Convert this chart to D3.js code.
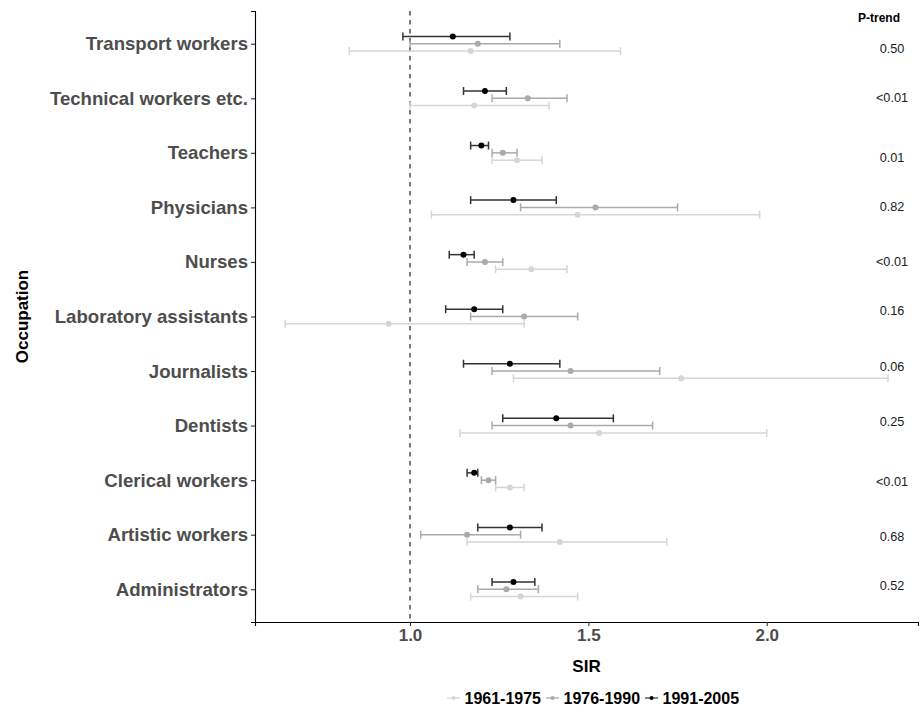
<!DOCTYPE html>
<html><head><meta charset="utf-8">
<script src="https://cdn.jsdelivr.net/npm/d3@7"></script>
<style>body{margin:0;background:#fff}svg{display:block}text{font-family:"Liberation Sans",Arial,sans-serif}</style>
</head><body>
<script>
const occupations = ["Transport workers","Technical workers etc.","Teachers","Physicians","Nurses","Laboratory assistants","Journalists","Dentists","Clerical workers","Artistic workers","Administrators"];
const periods = ["1991-2005","1976-1990","1961-1975"];
const legendOrder = ["1961-1975","1976-1990","1991-2005"];
// SIR point, lower, upper per period (order matches occupations)
const sir1991 = [1.12,1.21,1.20,1.29,1.15,1.18,1.28,1.41,1.18,1.28,1.29];
const lo1991  = [0.98,1.15,1.17,1.17,1.11,1.10,1.15,1.26,1.16,1.19,1.23];
const hi1991  = [1.28,1.27,1.22,1.41,1.18,1.26,1.42,1.57,1.19,1.37,1.35];
const sir1976 = [1.19,1.33,1.26,1.52,1.21,1.32,1.45,1.45,1.22,1.16,1.27];
const lo1976  = [1.00,1.23,1.23,1.31,1.16,1.17,1.23,1.23,1.20,1.03,1.19];
const hi1976  = [1.42,1.44,1.30,1.75,1.26,1.47,1.70,1.68,1.24,1.31,1.36];
const sir1961 = [1.17,1.18,1.30,1.47,1.34,0.94,1.76,1.53,1.28,1.42,1.31];
const lo1961  = [0.83,1.00,1.23,1.06,1.24,0.65,1.29,1.14,1.24,1.16,1.17];
const hi1961  = [1.59,1.39,1.37,1.98,1.44,1.32,2.34,2.00,1.32,1.72,1.47];
const pTrend = ["0.50","<0.01","0.01","0.82","<0.01","0.16","0.06","0.25","<0.01","0.68","0.52"];
const xTicks = [1.0,1.5,2.0];

const W=922,H=705;
const m={left:255,right:918,top:11,bottom:622};
const svg=d3.select("body").append("svg").attr("width",W).attr("height",H);

const x=d3.scaleLinear().domain([0.5655,2.424]).range([m.left,m.right]);
const y=d3.scalePoint().domain(occupations).range([m.top,m.bottom]).padding(0.6);
const dodge=d3.scalePoint().domain(periods).range([-7.3,7.3]);
const ptColor={"1991-2005":"#000000","1976-1990":"#aaaaaa","1961-1975":"#d6d6d6"};
const barColor={"1991-2005":"#333333","1976-1990":"#aaaaaa","1961-1975":"#d6d6d6"};

const series={
 "1991-2005":{s:sir1991,l:lo1991,h:hi1991},
 "1976-1990":{s:sir1976,l:lo1976,h:hi1976},
 "1961-1975":{s:sir1961,l:lo1961,h:hi1961}
};
const rows=[];
periods.forEach(p=>occupations.forEach((o,i)=>rows.push({p,o,s:series[p].s[i],l:series[p].l[i],h:series[p].h[i]})));

// dashed reference line
svg.append("line").attr("x1",x(1)).attr("x2",x(1)).attr("y1",m.top).attr("y2",m.bottom)
 .attr("stroke","#333").attr("stroke-width",1.3).attr("stroke-dasharray","4.5,4.5");

// draw lighter first
const drawOrder=["1961-1975","1976-1990","1991-2005"];
drawOrder.forEach(p=>{
 const g=svg.append("g");
 const d=rows.filter(r=>r.p===p);
 const c=barColor[p], cap=4;
 d.forEach(r=>{
  const yy=y(r.o)+dodge(p);
  g.append("line").attr("x1",x(r.l)).attr("x2",x(r.h)).attr("y1",yy).attr("y2",yy).attr("stroke",c).attr("stroke-width",1.5);
  g.append("line").attr("x1",x(r.l)).attr("x2",x(r.l)).attr("y1",yy-cap).attr("y2",yy+cap).attr("stroke",c).attr("stroke-width",1.5);
  g.append("line").attr("x1",x(r.h)).attr("x2",x(r.h)).attr("y1",yy-cap).attr("y2",yy+cap).attr("stroke",c).attr("stroke-width",1.5);
  g.append("circle").attr("cx",x(r.s)).attr("cy",yy).attr("r",3).attr("fill",ptColor[p]);
 });
});

// axes
const xa=svg.append("g").attr("transform",`translate(0,${m.bottom})`)
 .call(d3.axisBottom(x).tickValues(xTicks).tickFormat(d3.format(".1f")).tickSizeOuter(0).tickSize(4).tickPadding(3));
xa.select(".domain").attr("stroke","#000").attr("stroke-width",1.1);
xa.selectAll(".tick line").attr("stroke","#333").attr("stroke-width",1.1);
xa.selectAll(".tick text").attr("fill","#4d4d4d").style("font-size","17px").style("font-weight","bold");

const ya=svg.append("g").attr("transform",`translate(${m.left},0)`)
 .call(d3.axisLeft(y).tickSizeOuter(0).tickSize(4).tickPadding(3));
ya.select(".domain").attr("stroke","#000").attr("stroke-width",1.1);
ya.selectAll(".tick line").attr("stroke","#333").attr("stroke-width",1.1);
ya.selectAll(".tick text").attr("fill","#4d4d4d").style("font-size","18.6px").style("font-weight","bold");

// axis titles
svg.append("text").attr("x",(m.left+m.right)/2).attr("y",671.5).attr("text-anchor","middle")
 .style("font-size","17px").style("font-weight","bold").attr("fill","#000").text("SIR");
svg.append("text").attr("transform",`translate(28,${(m.top+m.bottom)/2}) rotate(-90)`).attr("text-anchor","middle")
 .style("font-size","17px").style("font-weight","bold").attr("fill","#000").text("Occupation");

// P-trend column
svg.append("text").attr("x",879).attr("y",22).attr("text-anchor","middle")
 .style("font-size","12px").style("font-weight","bold").attr("fill","#000").text("P-trend");
const pNudge=[5,-0.7,5,-1,0,-5.6,-5,-4.6,1.5,2,-4];
occupations.forEach((o,i)=>{
 svg.append("text").attr("x",892).attr("y",y(o)+pNudge[i]+4.5).attr("text-anchor","middle")
  .style("font-size","12.7px").attr("fill","#1a1a1a").text(pTrend[i]);
});

// legend
const lg=svg.append("g");
let lx=447;
const lgY=698;
legendOrder.forEach(p=>{
 lg.append("line").attr("x1",lx).attr("x2",lx+13).attr("y1",lgY).attr("y2",lgY).attr("stroke",barColor[p]).attr("stroke-width",1.2);
 lg.append("circle").attr("cx",lx+6.5).attr("cy",lgY).attr("r",2).attr("fill",ptColor[p]);
 const t=lg.append("text").attr("x",lx+17.5).attr("y",lgY+5.5).style("font-size","16px").style("font-weight","bold").attr("fill","#000").text(p);
 lx+=17.5+t.node().getComputedTextLength()+5;
});
</script>
</body></html>
